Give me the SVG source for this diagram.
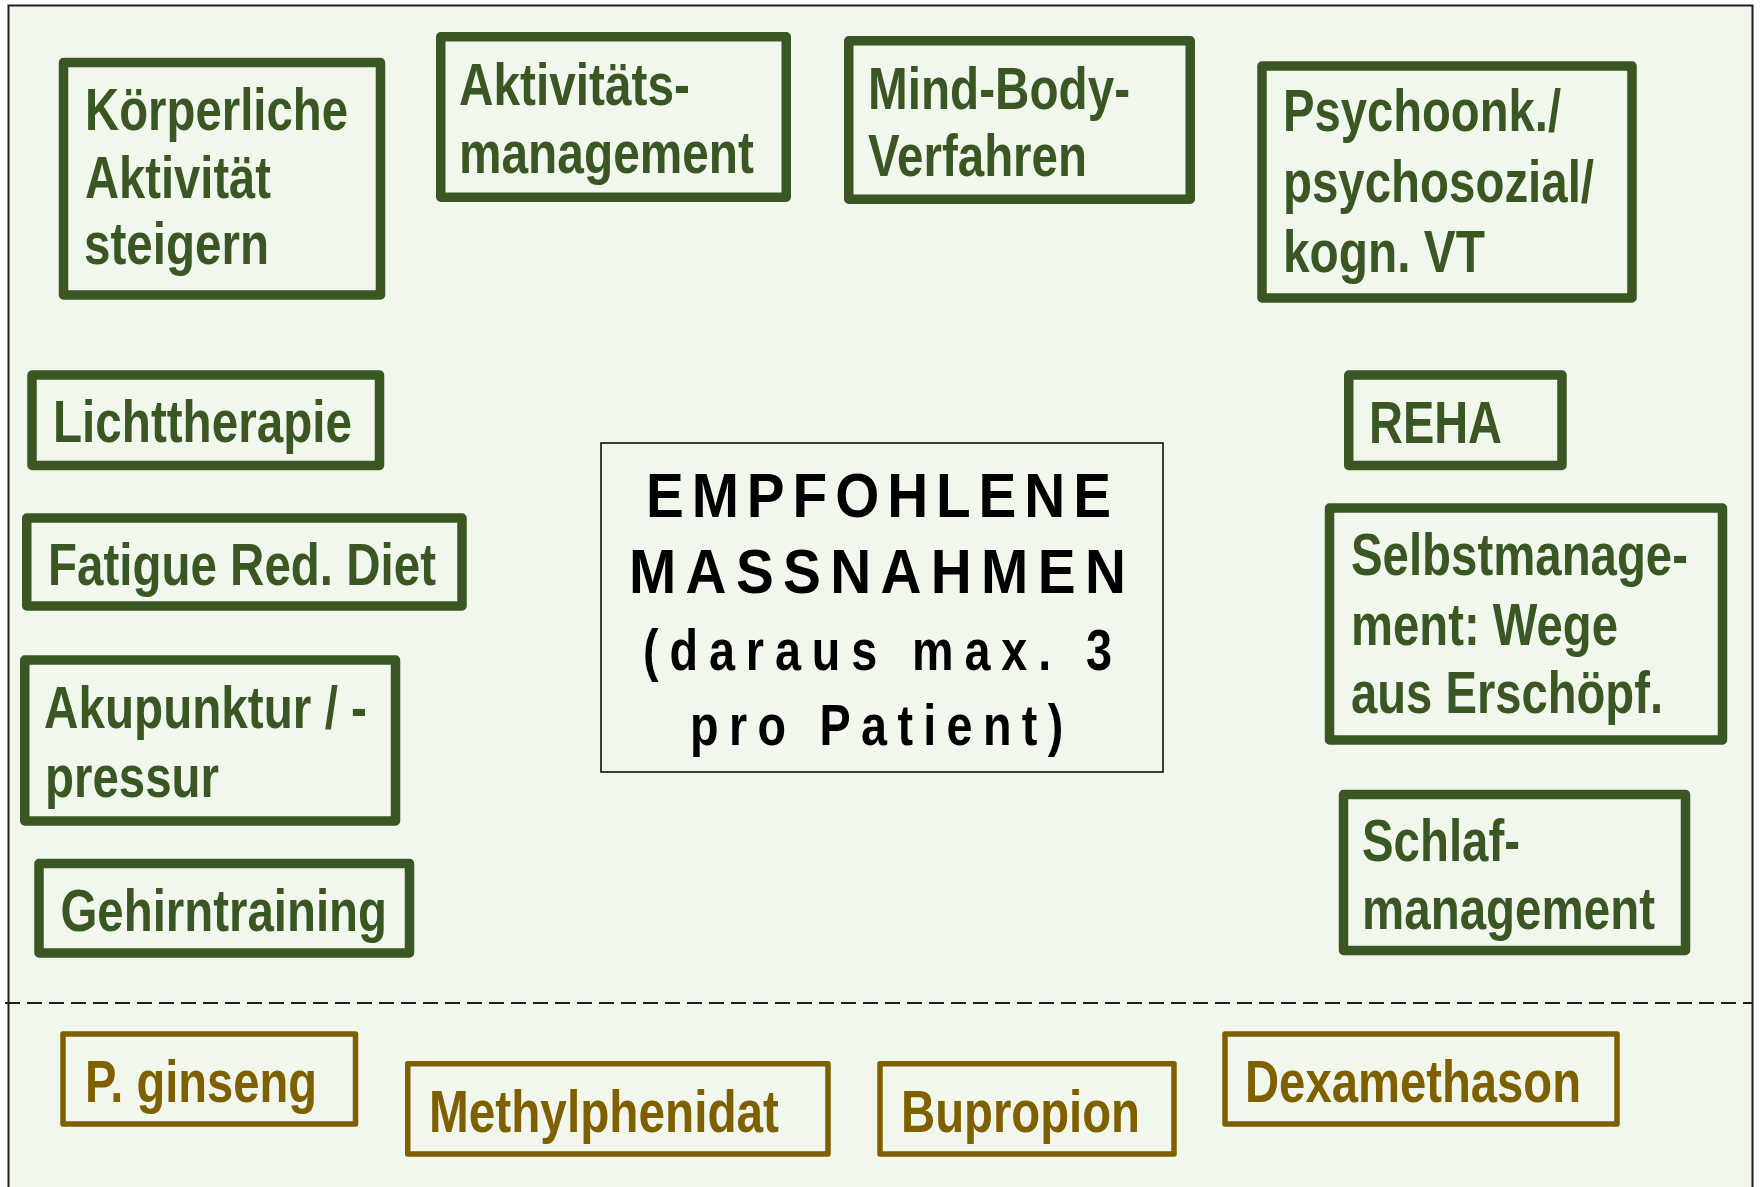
<svg xmlns="http://www.w3.org/2000/svg" width="1761" height="1187" viewBox="0 0 1761 1187">
<style>
.g rect{fill:none;stroke:#3a5723;stroke-width:9.5;stroke-linejoin:round}
.g text{fill:#3a5723}
.d rect{fill:none;stroke:#7f6000;stroke-width:5.5;stroke-linejoin:round}
.d text{fill:#7f6000}
text{font-family:"Liberation Sans",Arial,sans-serif;font-weight:bold;font-size:59px}
.c text{fill:#000}
.c .big{font-size:63px}
.c .small{font-size:57px}
</style>
<rect x="0" y="0" width="1761" height="1187" fill="#ffffff"/>
<rect x="8.5" y="5.5" width="1744" height="1200" fill="#f2f7ee" stroke="#1e1e1e" stroke-width="2"/>

<g id="sep">
<line x1="5" y1="1003" x2="1753" y2="1003" stroke="#1e1e1e" stroke-width="2" stroke-dasharray="15 7"/>
</g>

<g id="n-koerperliche" class="g">
<rect x="63.5" y="62.5" width="317" height="232.5"/>
<text x="85" y="130" textLength="263" lengthAdjust="spacingAndGlyphs">Körperliche</text>
<text x="85" y="198" textLength="186" lengthAdjust="spacingAndGlyphs">Aktivität</text>
<text x="84" y="264" textLength="185" lengthAdjust="spacingAndGlyphs">steigern</text>
</g>

<g id="n-aktivitaet" class="g">
<rect x="440.75" y="36.75" width="345.5" height="160.5"/>
<text x="459" y="105" textLength="231" lengthAdjust="spacingAndGlyphs">Aktivitäts-</text>
<text x="459" y="173" textLength="295" lengthAdjust="spacingAndGlyphs">management</text>
</g>

<g id="n-mindbody" class="g">
<rect x="848.75" y="40.75" width="341.5" height="158.5"/>
<text x="868" y="109" textLength="262" lengthAdjust="spacingAndGlyphs">Mind-Body-</text>
<text x="868" y="176" textLength="219" lengthAdjust="spacingAndGlyphs">Verfahren</text>
</g>

<g id="n-psycho" class="g">
<rect x="1262" y="66" width="370" height="232"/>
<text x="1283" y="131" textLength="278" lengthAdjust="spacingAndGlyphs">Psychoonk./</text>
<text x="1283" y="202" textLength="311" lengthAdjust="spacingAndGlyphs">psychosozial/</text>
<text x="1283" y="272" textLength="202" lengthAdjust="spacingAndGlyphs">kogn. VT</text>
</g>

<g id="n-licht" class="g">
<rect x="32" y="375" width="347.5" height="90.5"/>
<text x="53" y="442" textLength="299" lengthAdjust="spacingAndGlyphs">Lichttherapie</text>
</g>

<g id="n-fatigue" class="g">
<rect x="26.75" y="518" width="435.25" height="88"/>
<text x="48" y="585" textLength="388" lengthAdjust="spacingAndGlyphs">Fatigue Red. Diet</text>
</g>

<g id="n-akupunktur" class="g">
<rect x="24.75" y="660" width="370.75" height="161"/>
<text x="44" y="728" textLength="323" lengthAdjust="spacingAndGlyphs">Akupunktur / -</text>
<text x="45" y="797" textLength="174" lengthAdjust="spacingAndGlyphs">pressur</text>
</g>

<g id="n-gehirn" class="g">
<rect x="39" y="863.5" width="370.5" height="89.5"/>
<text x="60.5" y="931" textLength="326.5" lengthAdjust="spacingAndGlyphs">Gehirntraining</text>
</g>

<g id="n-reha" class="g">
<rect x="1348.75" y="375" width="213.25" height="90.5"/>
<text x="1369" y="443" textLength="133" lengthAdjust="spacingAndGlyphs">REHA</text>
</g>

<g id="n-selbst" class="g">
<rect x="1329.5" y="508" width="393" height="232"/>
<text x="1351" y="575" textLength="337" lengthAdjust="spacingAndGlyphs">Selbstmanage-</text>
<text x="1351" y="645" textLength="267" lengthAdjust="spacingAndGlyphs">ment: Wege</text>
<text x="1351" y="713" textLength="312" lengthAdjust="spacingAndGlyphs">aus Erschöpf.</text>
</g>

<g id="n-schlaf" class="g">
<rect x="1343.5" y="794.5" width="342" height="156"/>
<text x="1362" y="861" textLength="158" lengthAdjust="spacingAndGlyphs">Schlaf-</text>
<text x="1362" y="929" textLength="293" lengthAdjust="spacingAndGlyphs">management</text>
</g>

<g id="n-center" class="c">
<rect x="601" y="443" width="562" height="329" fill="none" stroke="#000" stroke-width="1.5"/>
<text class="big" transform="translate(646,517) scale(0.9,1)" letter-spacing="8.8">EMPFOHLENE</text>
<text class="big" transform="translate(629,593) scale(0.9,1)" letter-spacing="10.4">MASSNAHMEN</text>
<text class="small" transform="translate(643,670) scale(0.82,1)" letter-spacing="13.3">(daraus max. 3</text>
<text class="small" transform="translate(690,745) scale(0.82,1)" letter-spacing="12.6">pro Patient)</text>
</g>

<g id="n-ginseng" class="d">
<rect x="63" y="1034" width="292.5" height="90"/>
<text x="85" y="1102" textLength="232" lengthAdjust="spacingAndGlyphs">P. ginseng</text>
</g>

<g id="n-methyl" class="d">
<rect x="407.75" y="1063.75" width="420.25" height="90.25"/>
<text x="429" y="1132" textLength="350" lengthAdjust="spacingAndGlyphs">Methylphenidat</text>
</g>

<g id="n-bupropion" class="d">
<rect x="880" y="1063.75" width="294" height="90.25"/>
<text x="901" y="1132" textLength="239" lengthAdjust="spacingAndGlyphs">Bupropion</text>
</g>

<g id="n-dexa" class="d">
<rect x="1225" y="1034" width="392" height="90"/>
<text x="1245" y="1102" textLength="336" lengthAdjust="spacingAndGlyphs">Dexamethason</text>
</g>
</svg>
